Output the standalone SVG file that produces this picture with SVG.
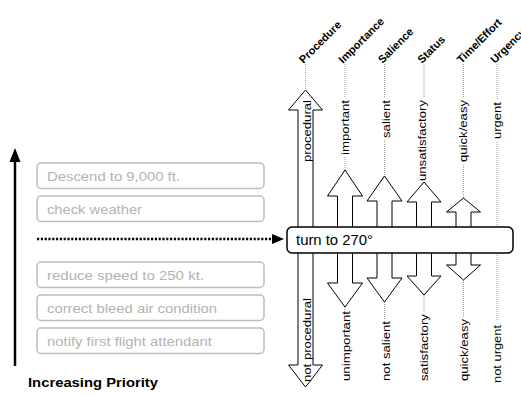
<svg xmlns="http://www.w3.org/2000/svg" width="521" height="395" viewBox="0 0 521 395">
<style>
.gbox{fill:#fff;stroke:#bdbdbd;stroke-width:1.5}
.gtxt{font-family:"Liberation Sans",Arial,sans-serif;font-size:13px;fill:#b3b3b3}
.arr{fill:#fff;stroke:#000;stroke-width:1}
.dim{font-family:"Liberation Sans",Arial,sans-serif;font-size:10.5px;fill:#000}
.hdr{font-family:"Liberation Sans",Arial,sans-serif;font-size:11px;font-weight:bold;fill:#000}
.dot{stroke:#8a8a8a;stroke-width:0.8;stroke-dasharray:1 1;fill:none}
</style>
<defs>
<marker id="tri" markerWidth="12" markerHeight="10" refX="0" refY="5" orient="auto" markerUnits="userSpaceOnUse">
<path d="M0,0 L12,5 L0,10 Z" fill="#000"/>
</marker>
</defs>

<g id="connectors">
<line x1="15" y1="366" x2="15" y2="160" stroke="#000" stroke-width="2.5"/>
<path d="M15,148 L20.5,162 L9.5,162 Z" fill="#000"/>
<line x1="37" y1="239" x2="272" y2="239" stroke="#000" stroke-width="2.5" stroke-dasharray="2.2 1.6" marker-end="url(#tri)"/>
<g class="dot">
<line x1="305.5" y1="64" x2="305.5" y2="91"/>
<line x1="345" y1="64" x2="345" y2="98"/>
<line x1="345" y1="157" x2="345" y2="170"/>
<line x1="345" y1="307" x2="345" y2="311"/>
<line x1="384.5" y1="64" x2="384.5" y2="98"/>
<line x1="384.5" y1="140" x2="384.5" y2="176"/>
<line x1="384.5" y1="302" x2="384.5" y2="319"/>
<line x1="424" y1="64" x2="424" y2="98"/>
<line x1="424" y1="295" x2="424" y2="312"/>
<line x1="463.5" y1="64" x2="463.5" y2="98"/>
<line x1="463.5" y1="165" x2="463.5" y2="198"/>
<line x1="463.5" y1="280" x2="463.5" y2="317"/>
<line x1="497" y1="64" x2="497" y2="100"/>
<line x1="497" y1="142" x2="497" y2="227"/>
<line x1="497" y1="253" x2="497" y2="320"/>
</g>
</g>

<g id="priority-label"><text class="hdr" x="28" y="387" style="font-size:13.5px" textLength="130" lengthAdjust="spacingAndGlyphs">Increasing Priority</text></g>

<g id="task-descend"><rect class="gbox" x="37" y="163" width="227" height="25.5" rx="4"/><text class="gtxt" x="47" y="181" textLength="133" lengthAdjust="spacingAndGlyphs">Descend to 9,000 ft.</text></g>
<g id="task-weather"><rect class="gbox" x="37" y="196" width="227" height="25.5" rx="4"/><text class="gtxt" x="47" y="214" textLength="95" lengthAdjust="spacingAndGlyphs">check weather</text></g>
<g id="task-speed"><rect class="gbox" x="37" y="262" width="227" height="25.5" rx="4"/><text class="gtxt" x="47" y="280" textLength="157" lengthAdjust="spacingAndGlyphs">reduce speed to 250 kt.</text></g>
<g id="task-bleed"><rect class="gbox" x="37" y="295" width="227" height="25.5" rx="4"/><text class="gtxt" x="47" y="313" textLength="170" lengthAdjust="spacingAndGlyphs">correct bleed air condition</text></g>
<g id="task-notify"><rect class="gbox" x="37" y="328" width="227" height="25.5" rx="4"/><text class="gtxt" x="47" y="346" textLength="165" lengthAdjust="spacingAndGlyphs">notify first flight attendant</text></g>

<g id="dim-procedure">
<polygon class="arr" points="305.5,90 322.5,110 313,110 313,365 322.5,365 305.5,387 288.5,365 298,365 298,110 288.5,110"/>
<text class="hdr" transform="translate(303.5,64) rotate(-45)">Procedure</text>
<text class="dim" transform="translate(311,100) rotate(-90)" text-anchor="end" textLength="62" lengthAdjust="spacingAndGlyphs">procedural</text>
<text class="dim" transform="translate(311,382) rotate(-90)" textLength="84" lengthAdjust="spacingAndGlyphs">not procedural</text>
</g>
<g id="dim-importance">
<polygon class="arr" points="345,170 362.5,196 352.5,196 352.5,240 337.5,240 337.5,196 327.5,196"/>
<polygon class="arr" points="337.5,240 352.5,240 352.5,283 362.5,283 345,307 327.5,283 337.5,283"/>
<text class="hdr" transform="translate(343,64) rotate(-45)">Importance</text>
<text class="dim" transform="translate(349,100) rotate(-90)" text-anchor="end" textLength="55" lengthAdjust="spacingAndGlyphs">important</text>
<text class="dim" transform="translate(349.5,381) rotate(-90)" textLength="70" lengthAdjust="spacingAndGlyphs">unimportant</text>
</g>
<g id="dim-salience">
<polygon class="arr" points="384.5,176 402,201 392,201 392,240 377,240 377,201 367,201"/>
<polygon class="arr" points="377,240 392,240 392,278 402,278 384.5,302 367,278 377,278"/>
<text class="hdr" transform="translate(382.5,64) rotate(-45)">Salience</text>
<text class="dim" transform="translate(389.5,100) rotate(-90)" text-anchor="end" textLength="38" lengthAdjust="spacingAndGlyphs">salient</text>
<text class="dim" transform="translate(390,381) rotate(-90)" textLength="60" lengthAdjust="spacingAndGlyphs">not salient</text>
</g>
<g id="dim-status">
<polygon class="arr" points="424,182 441,202 431.5,202 431.5,240 416.5,240 416.5,202 407,202"/>
<polygon class="arr" points="416.5,240 431.5,240 431.5,276 441,276 424,295 407,276 416.5,276"/>
<text class="hdr" transform="translate(422,64) rotate(-45)">Status</text>
<text class="dim" transform="translate(426,100) rotate(-90)" text-anchor="end" textLength="81" lengthAdjust="spacingAndGlyphs">unsatisfactory</text>
<text class="dim" transform="translate(428,381) rotate(-90)" textLength="67" lengthAdjust="spacingAndGlyphs">satisfactory</text>
</g>
<g id="dim-time">
<polygon class="arr" points="463.5,198 480.5,212 471,212 471,240 456,240 456,212 446.5,212"/>
<polygon class="arr" points="456,240 471,240 471,265 480.5,265 463.5,280 446.5,265 456,265"/>
<text class="hdr" transform="translate(461.5,64) rotate(-45)">Time/Effort</text>
<text class="dim" transform="translate(467,100) rotate(-90)" text-anchor="end" textLength="62" lengthAdjust="spacingAndGlyphs">quick/easy</text>
<text class="dim" transform="translate(467.5,381) rotate(-90)" textLength="62" lengthAdjust="spacingAndGlyphs">quick/easy</text>
</g>
<g id="dim-urgency">
<text class="hdr" transform="translate(495,64) rotate(-45)">Urgency</text>
<text class="dim" transform="translate(500.5,102) rotate(-90)" text-anchor="end" textLength="37" lengthAdjust="spacingAndGlyphs">urgent</text>
<text class="dim" transform="translate(501,383) rotate(-90)" textLength="58" lengthAdjust="spacingAndGlyphs">not urgent</text>
</g>

<g id="task-turn">
<rect x="287" y="227" width="226" height="26" rx="5" fill="#fff" stroke="#000" stroke-width="1.5"/>
<text x="296" y="245" style="font-family:'Liberation Sans',Arial,sans-serif;font-size:14px" textLength="77" lengthAdjust="spacingAndGlyphs">turn to 270°</text>
</g>
</svg>
